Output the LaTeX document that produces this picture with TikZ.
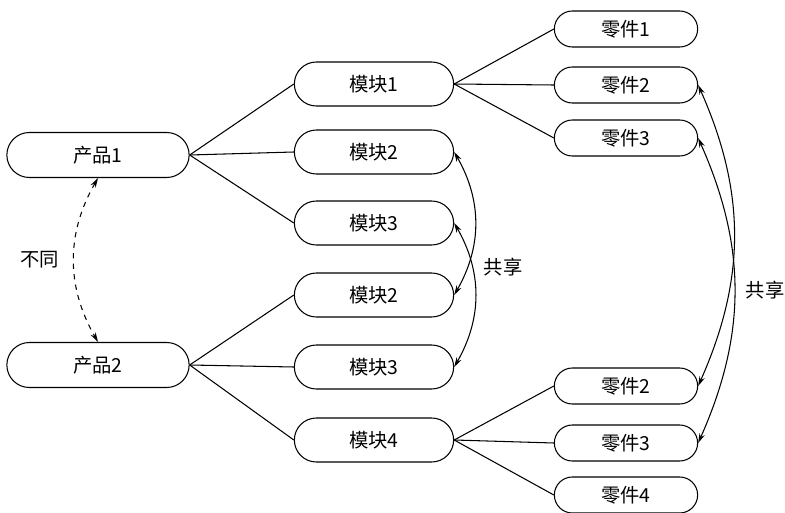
\documentclass[tikz,border=0pt]{standalone}
\usepackage{fontspec}
\newfontfamily\cjk{Noto Sans CJK SC}
\usepackage{tikz}
\usetikzlibrary{shapes.misc, arrows.meta}

\begin{document}
\begin{tikzpicture}[line width=0.6pt,
        every node/.style={font=\cjk\fontsize{11}{13}\selectfont},
        prodbox/.style={draw, rounded rectangle, minimum width=3.88cm, minimum height=0.9cm},
        modbox/.style={draw, rounded rectangle, minimum width=3.42cm, minimum height=0.88cm},
        partbox/.style={draw, rounded rectangle, minimum width=3.1cm, minimum height=0.72cm},
        sharearrow/.style={{Stealth[length=5.5pt,width=3.2pt]}-{Stealth[length=5.5pt,width=3.2pt]}}]
        \useasboundingbox (0,0) rectangle (15.7,10.24);
        % Products
        \node[prodbox] (prod1) at (1.96,7.14) {产品1};
        \node[prodbox] (prod2) at (1.96,2.94) {产品2};
        % Modules
        \node[modbox] (modA1) at (7.48,8.56) {模块1};
        \node[modbox] (modA2) at (7.48,7.2) {模块2};
        \node[modbox] (modA3) at (7.48,5.78) {模块3};
        \node[modbox] (modB2) at (7.48,4.34) {模块2};
        \node[modbox] (modB3) at (7.48,2.9) {模块3};
        \node[modbox] (modB4) at (7.48,1.44) {模块4};
        % Parts
        \node[partbox] (partA1) at (12.52,9.66) {零件1};
        \node[partbox] (partA2) at (12.52,8.54) {零件2};
        \node[partbox] (partA3) at (12.52,7.48) {零件3};
        \node[partbox] (partB2) at (12.52,2.52) {零件2};
        \node[partbox] (partB3) at (12.52,1.38) {零件3};
        \node[partbox] (partB4) at (12.52,0.34) {零件4};
        % Tree lines
        \draw (prod1.east) -- (modA1.west);
        \draw (prod1.east) -- (modA2.west);
        \draw (prod1.east) -- (modA3.west);
        \draw (prod2.east) -- (modB2.west);
        \draw (prod2.east) -- (modB3.west);
        \draw (prod2.east) -- (modB4.west);
        \draw (modA1.east) -- (partA1.west);
        \draw (modA1.east) -- (partA2.west);
        \draw (modA1.east) -- (partA3.west);
        \draw (modB4.east) -- (partB2.west);
        \draw (modB4.east) -- (partB3.west);
        \draw (modB4.east) -- (partB4.west);
        % Different products
        \draw[sharearrow, dashed] (prod1.south) to[bend right=30] (prod2.north);
        \node (diff) at (0.8,5.04) {不同};
        % Shared modules
        \draw[sharearrow] (modA2.east) to[bend left=30] (modB2.east);
        \draw[sharearrow] (modA3.east) to[bend left=30] (modB3.east);
        \node (sharemod) at (10.06,4.9) {共享};
        % Shared parts
        \draw[sharearrow] (partA2.east) to[bend left=24] (partB2.east);
        \draw[sharearrow] (partA3.east) to[bend left=24] (partB3.east);
        \node (sharepart) at (15.3,4.44) {共享};
    \end{tikzpicture}
\end{document}
